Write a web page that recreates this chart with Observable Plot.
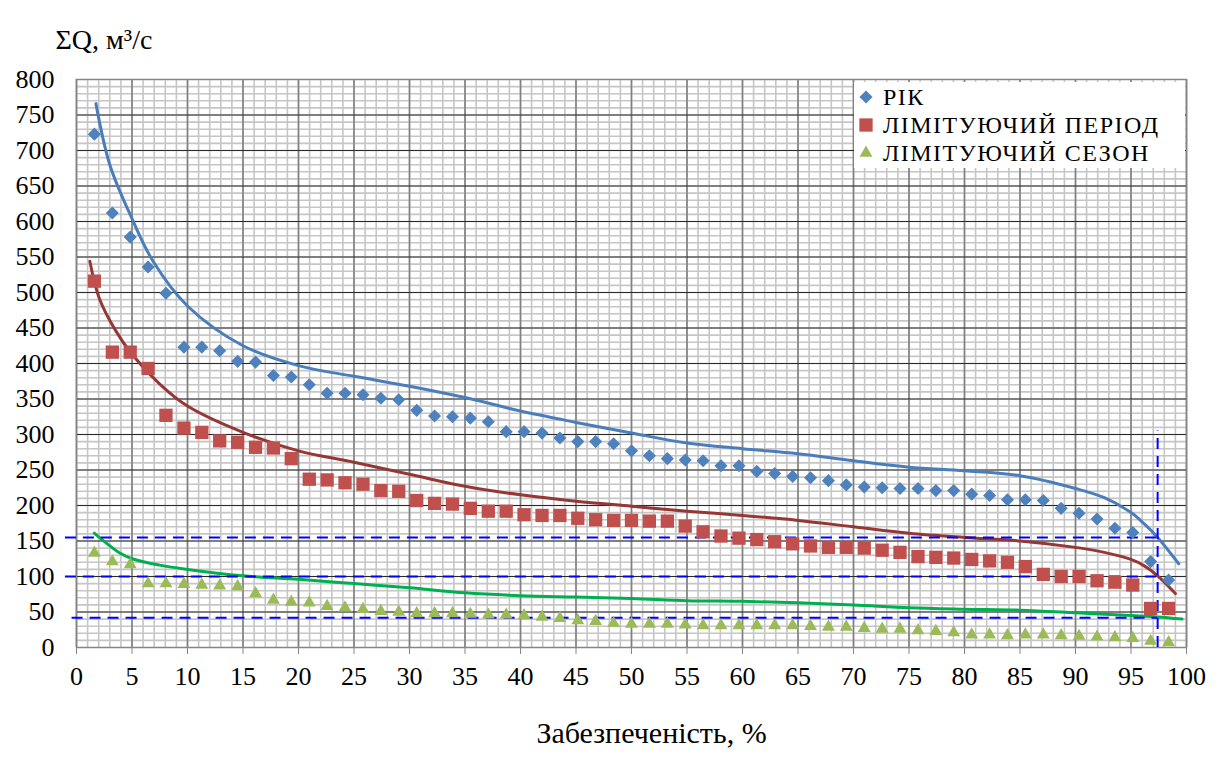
<!DOCTYPE html>
<html>
<head>
<meta charset="utf-8">
<script src="https://cdn.jsdelivr.net/npm/d3@7"></script>
<script src="https://cdn.jsdelivr.net/npm/@observablehq/plot@0.6"></script>
<style>
  body { margin: 0; background: #fff; }
  #chart { position: relative; width: 1223px; height: 758px; font-family: "Times New Roman", Times, "Liberation Serif", Tinos, "Noto Serif", "Nimbus Roman", "FreeSerif", "DejaVu Serif", serif; }
  #chart svg text { font-family: "Times New Roman", Times, "Liberation Serif", Tinos, "Noto Serif", "Nimbus Roman", "FreeSerif", "DejaVu Serif", serif; }
  #legend { position: absolute; left: 854px; top: 82px; width: 331px; height: 86px; background: #fff; font-size: 24px; letter-spacing: 1.5px; color: #000; }
  .item { position: absolute; left: 0; height: 28px; line-height: 28px; display: flex; align-items: center; white-space: nowrap; }
  .item svg { width: 22px; height: 22px; margin-left: 1px; margin-right: 6px; }
</style>
</head>
<body>
<div id="chart"></div>
<script>
// Exceedance probability of each ranked value, %
const probability = [
  1.61, 3.23, 4.84, 6.45, 8.06, 9.68, 11.29, 12.90, 14.52, 16.13,
  17.74, 19.35, 20.97, 22.58, 24.19, 25.81, 27.42, 29.03, 30.65, 32.26,
  33.87, 35.48, 37.10, 38.71, 40.32, 41.94, 43.55, 45.16, 46.77, 48.39,
  50.00, 51.61, 53.23, 54.84, 56.45, 58.06, 59.68, 61.29, 62.90, 64.52,
  66.13, 67.74, 69.35, 70.97, 72.58, 74.19, 75.81, 77.42, 79.03, 80.65,
  82.26, 83.87, 85.48, 87.10, 88.71, 90.32, 91.94, 93.55, 95.16, 96.77, 98.39
];

// Ranked runoff sums, m3/s
const yearFlow = [
  723, 612, 578, 536, 499, 423, 423, 418, 403, 402,
  383, 381, 370, 358, 358, 356, 351, 349, 334, 326,
  325, 323, 318, 304, 304, 302, 295, 290, 290, 287,
  277, 270, 266, 264, 263, 256, 256, 248, 245, 241,
  239, 235, 229, 226, 225, 224, 224, 221, 221, 216,
  214, 208, 208, 207, 196, 189, 181, 168, 162, 121, 95
];
const periodFlow = [
  516, 416, 416, 393, 327, 309, 303, 291, 289, 282,
  281, 266, 237, 236, 232, 230, 221, 220, 207, 203,
  202, 196, 192, 192, 187, 186, 186, 182, 180, 179,
  179, 178, 178, 171, 163, 157, 154, 152, 149, 146,
  143, 141, 141, 140, 137, 134, 128, 127, 126, 124,
  122, 120, 114, 103, 100, 100, 94, 92, 88, 55, 55
];
const seasonFlow = [
  133, 121, 117, 90, 90, 89, 88, 87, 86, 76,
  67, 64, 63, 58, 56, 54, 51, 50, 48, 48,
  48, 47, 46, 46, 45, 43, 41, 38, 37, 34,
  33, 33, 33, 32, 31, 31, 31, 31, 31, 31,
  30, 29, 29, 27, 26, 26, 24, 23, 21, 18,
  18, 17, 18, 18, 17, 16, 15, 14, 13, 9, 7
];

// Smoothed supply curves
const yearCurveX = [1.75, 3, 5, 6.9, 10, 15, 20, 25, 30, 35, 40, 45, 50, 55, 60, 65, 70, 75, 80, 85, 90, 92.6, 95, 96.2, 97.4, 99.3];
const yearCurveY = [766, 680, 604, 544, 481, 425, 397, 382, 368, 352, 333, 317, 302, 288, 280, 273, 263, 254, 249, 242, 224, 211, 190, 174, 155, 118];
const periodCurveX = [1.2, 2.05, 3.5, 5, 7.5, 10, 15, 20, 25, 30, 35, 40, 45, 50, 55, 60, 65, 70, 75, 80, 85, 90, 92.6, 95, 96.2, 97.4, 99];
const periodCurveY = [544, 492, 447, 413, 371, 340, 303, 277, 261, 244, 227, 215, 206, 199, 192, 186, 179, 170, 161, 155, 150, 141, 134, 124, 115, 101, 76];
const seasonCurveX = [1.6, 3.9, 5, 7.5, 10, 15, 20, 25, 30, 35, 40, 45, 50, 55, 60, 65, 70, 75, 80, 85, 90, 95, 97.4, 99.6];
const seasonCurveY = [161, 133, 125, 116, 110, 101, 96, 90, 84, 77, 73, 71, 69, 66, 65, 63, 60, 56, 54, 52.6, 49, 45, 43, 40];

// Design flows read at the 97 % supply level
const guideLevels = [155, 100, 42];
const guideStarts = [-1, -1, -0.4];
const guideProbability = 97.4;
const guideTop = 305;

const seriesNames = ["РІК", "ЛІМІТУЮЧИЙ ПЕРІОД", "ЛІМІТУЮЧИЙ СЕЗОН"];
const seriesColors = ["#4F81BD", "#C0504D", "#9BBB59"];
const curveColors = ["#4A7EBB", "#953735", "#00B050"];
const xTickLabels = [0, 5, 10, 15, 20, 25, 30, 35, 40, 45, 50, 55, 60, 65, 70, 75, 80, 85, 90, 95, 100];
const yTickLabels = [0, 50, 100, 150, 200, 250, 300, 350, 400, 450, 500, 550, 600, 650, 700, 750, 800];
const yTitle = "ΣQ, м³/с";
const xTitle = "Забезпеченість, %";

const points = (ys) => probability.map((p, i) => ({x: p, y: ys[i]}));
const curve = (xs, ys) => xs.map((x, i) => ({x, y: ys[i]}));
const guides = guideLevels.map((y, i) => ({y, x1: guideStarts[i], x2: guideProbability}));

const xMinor = d3.range(0, 101, 1);
const yMinor = d3.range(0, 801, 10);

const chart = Plot.plot({
  width: 1223,
  height: 758,
  marginLeft: 76,
  marginRight: 37,
  marginTop: 79,
  marginBottom: 111,
  style: {fontSize: "26px", color: "#000", background: "#fff", overflow: "visible"},
  x: {domain: [0, 100]},
  y: {domain: [0, 800]},
  marks: [
    Plot.gridX(xMinor, {stroke: "#c6c6c6", strokeWidth: 1.6, strokeOpacity: 1}),
    Plot.gridY(yMinor, {stroke: "#c6c6c6", strokeWidth: 1.6, strokeOpacity: 1}),
    Plot.gridX(xTickLabels, {stroke: "#808080", strokeWidth: 1.6, strokeOpacity: 1}),
    Plot.gridY(yTickLabels, {stroke: "#2a2a2a", strokeWidth: 1.1, strokeOpacity: 1}),
    Plot.frame({stroke: "#868686", strokeWidth: 1.3}),
    Plot.axisY(yTickLabels, {tickSize: 0, tickPadding: 22, label: null, fill: "#000", fontSize: 26}),
    Plot.axisX(xTickLabels, {tickSize: 7, tickPadding: 12, label: null, stroke: "#868686", fill: "#000", fontSize: 26}),
    Plot.line(curve(yearCurveX, yearCurveY), {x: "x", y: "y", stroke: curveColors[0], strokeWidth: 3, curve: "catmull-rom"}),
    Plot.line(curve(periodCurveX, periodCurveY), {x: "x", y: "y", stroke: curveColors[1], strokeWidth: 3, curve: "catmull-rom"}),
    Plot.line(curve(seasonCurveX, seasonCurveY), {x: "x", y: "y", stroke: curveColors[2], strokeWidth: 3, curve: "catmull-rom"}),
    Plot.ruleY(guides, {y: "y", x1: "x1", x2: "x2", stroke: "#0000FF", strokeWidth: 2, strokeDasharray: "11,7"}),
    Plot.ruleX([guideProbability], {y1: 0, y2: guideTop, stroke: "#0000FF", strokeWidth: 2, strokeDasharray: "11,7"}),
    Plot.dot(points(yearFlow), {x: "x", y: "y", symbol: "diamond2", r: 5.9, fill: seriesColors[0], stroke: "none"}),
    Plot.dot(points(periodFlow), {x: "x", y: "y", symbol: "square", r: 7.5, fill: seriesColors[1], stroke: "none"}),
    Plot.dot(points(seasonFlow), {x: "x", y: "y", symbol: "triangle", r: 4.8, fill: seriesColors[2], stroke: "none"}),
    Plot.text([yTitle], {text: d => d, frameAnchor: "top-left", textAnchor: "start", dx: -21, dy: -50, fontSize: 28}),
    Plot.text([xTitle], {text: d => d, frameAnchor: "bottom", dx: 20, dy: 95, fontSize: 30})
  ]
});

const root = document.getElementById("chart");
root.appendChild(chart);

// Legend drawn over the upper-right corner of the plot
const legend = document.createElement("div");
legend.id = "legend";
const legendSymbols = [
  [d3.symbolDiamond2, Math.PI * 5.9 * 5.9],
  [d3.symbolSquare, Math.PI * 7.5 * 7.5],
  [d3.symbolTriangle, Math.PI * 4.8 * 4.8]
];
seriesNames.forEach((name, i) => {
  const item = document.createElement("div");
  item.className = "item";
  item.style.top = (1 + i * 28) + "px";
  const svg = d3.create("svg").attr("viewBox", "-11 -11 22 22");
  svg.append("path").attr("d", d3.symbol(legendSymbols[i][0], legendSymbols[i][1])()).attr("fill", seriesColors[i]);
  item.appendChild(svg.node());
  const label = document.createElement("span");
  label.textContent = name;
  item.appendChild(label);
  legend.appendChild(item);
});
root.appendChild(legend);
</script>
</body>
</html>
